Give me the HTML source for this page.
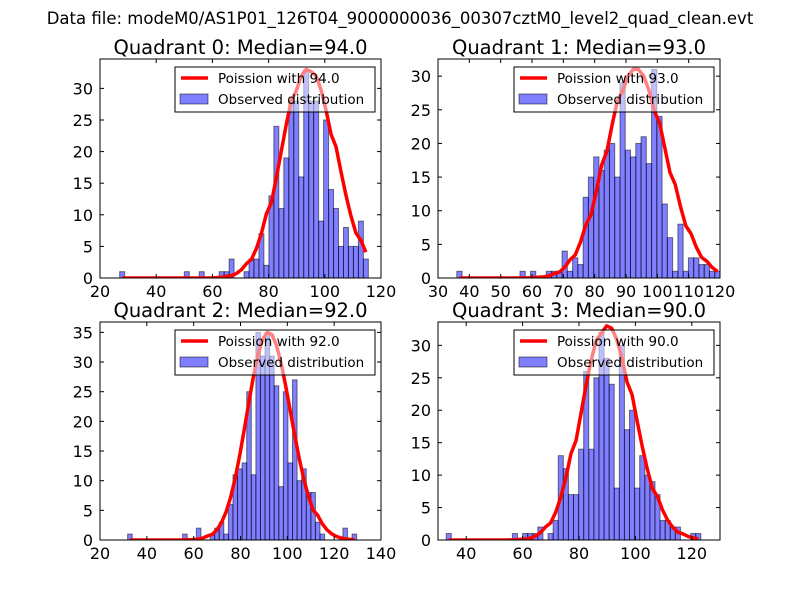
<!DOCTYPE html>
<html><head><meta charset="utf-8"><style>
html,body{margin:0;padding:0;background:#fff;}
svg{display:block;font-family:"DejaVu Sans","Liberation Sans",sans-serif;}
</style></head><body>
<svg id="fig" width="800" height="600" viewBox="0 0 800 600">
<rect width="800" height="600" fill="#fff"/>
<text x="400" y="24" text-anchor="middle" font-size="16.5">Data file: modeM0/AS1P01_126T04_9000000036_00307cztM0_level2_quad_clean.evt</text>
</svg>
<script>
// ---- data ----
const medians = [94.0, 93.0, 92.0, 90.0];
const dataMin = [27.0, 36.0, 31.8, 32.9];
const dataMax = [115.5, 120.0, 129.6, 123.2];
const curvePeak = [33, 31, 35, 33];
const q0Counts = [1,0,0,0,0,0,0,0,0,0,0,0,0,1,0,0,1,0,0,0,1,1,3,0,0,1,3,3,7,2,13,24,11,19,28,28,16,33,28,28,9,25,14,11,5,8,5,5,9,3];
const q1Counts = [1,0,0,0,0,0,0,0,0,0,0,0,1,0,1,0,0,1,1,1,4,1,3,2,12,15,18,16,19,20,15,29,19,18,20,21,17,31,24,11,6,1,8,1,3,3,2,2,1,1];
const q2Counts = [1,0,0,0,0,0,0,0,0,0,0,0,1,0,0,2,0,0,1,2,3,1,6,11,12,13,25,11,35,31,35,31,26,9,25,13,27,10,12,8,8,3,1,0,0,0,0,2,0,1];
const q3Counts = [1,0,0,0,0,0,0,0,0,0,0,0,0,1,0,1,1,1,2,0,1,3,13,11,7,7,14,26,14,25,32,28,24,8,30,17,20,8,13,10,9,7,3,3,2,2,0,0,1,1];
const xTicks = [[20,40,60,80,100,120],[30,40,50,60,70,80,90,100,110,120],[20,40,60,80,100,120,140],[40,60,80,100,120]];
const yTicks = [[0,5,10,15,20,25,30],[0,5,10,15,20,25,30],[0,5,10,15,20,25,30,35],[0,5,10,15,20,25,30]];
const xLimits = [[20,120],[30,120],[20,140],[30,130]];
// ---- layout ----
const boxes = [{l:100,r:381,t:59,b:278},{l:438,r:720,t:59,b:278},{l:100,r:381,t:322,b:540},{l:438,r:720,t:322,b:540}];
const allCounts = [q0Counts,q1Counts,q2Counts,q3Counts];
const NS = "http://www.w3.org/2000/svg";
const svg = document.getElementById('fig');
function mk(tag, attrs, parent){const e=document.createElementNS(NS,tag);for(const k in attrs)e.setAttribute(k,attrs[k]);(parent||svg).appendChild(e);return e;}
function lgamma(z){const g=7,c=[0.99999999999980993,676.5203681218851,-1259.1392167224028,771.32342877765313,-176.61563921189816,12.507343278686905,-0.13857109526572012,9.9843695780195716e-6,1.5056327351493116e-7];z-=1;let x=c[0];for(let i=1;i<g+2;i++)x+=c[i]/(z+i);const t=z+g+0.5;return 0.5*Math.log(2*Math.PI)+(z+0.5)*Math.log(t)-t+Math.log(x);}
function pmf(k,mu){return Math.exp(k*Math.log(mu)-mu-lgamma(k+1));}

for(let q=0;q<4;q++){
  const B=boxes[q], counts=allCounts[q], xl=xLimits[q];
  const ymax=1.05*Math.max(...counts);
  const sx=v=>B.l+(v-xl[0])/(xl[1]-xl[0])*(B.r-B.l);
  const sy=v=>B.b-v/ymax*(B.b-B.t);
  const g=mk('g',{});
  
  
  const clip=mk('clipPath',{id:'c'+q},g);mk('rect',{x:B.l,y:B.t,width:B.r-B.l,height:B.b-B.t},clip);
  const n=counts.length, w=(dataMax[q]-dataMin[q])/n;
  const bars=mk('g',{'clip-path':'url(#c'+q+')'},g);
  for(let i=0;i<n;i++){
    if(!counts[i])continue;
    const x0=sx(dataMin[q]+i*w), x1=sx(dataMin[q]+(i+1)*w);
    const r=mk('rect',{x:x0,y:sy(counts[i]),width:x1-x0,height:sy(0)-sy(counts[i]),fill:'rgba(0,0,255,0.5)',stroke:'rgba(0,0,0,0.5)','stroke-width':1},bars);
    
    
  }
  const mu=medians[q];
  const scale=curvePeak[q]/pmf(Math.floor(mu),mu);
  let d='';
  for(let i=0;i<n;i++){
    const c=dataMin[q]+(i+0.5)*w;
    const v=pmf(Math.floor(c),mu)*scale;
    d+=(i?'L':'M')+sx(c).toFixed(2)+','+sy(v).toFixed(2);
  }
  const curve=mk('path',{d:d,fill:'none',stroke:'#ff0000','stroke-width':3.5,'stroke-linejoin':'round','clip-path':'url(#c'+q+')'},g);
  
  
  mk('rect',{x:B.l,y:B.t,width:B.r-B.l,height:B.b-B.t,fill:'none',stroke:'#000','stroke-width':1},g);
  for(const t of xTicks[q]){
    const x=sx(t);
    mk('line',{x1:x,y1:B.b,x2:x,y2:B.b-4,stroke:'#000'},g);
    mk('line',{x1:x,y1:B.t,x2:x,y2:B.t+4,stroke:'#000'},g);
    const tx=mk('text',{x:x,y:B.b+19,'text-anchor':'middle','font-size':16},g);tx.textContent=t;
    
    
  }
  for(const t of yTicks[q]){
    const y=sy(t);
    mk('line',{x1:B.l,y1:y,x2:B.l+4,y2:y,stroke:'#000'},g);
    mk('line',{x1:B.r,y1:y,x2:B.r-4,y2:y,stroke:'#000'},g);
    const ty=mk('text',{x:B.l-7,y:y+6,'text-anchor':'end','font-size':16},g);ty.textContent=t;
    
    
  }
  const title=mk('text',{x:(B.l+B.r)/2,y:B.t-5,'text-anchor':'middle','font-size':19.5},g);
  title.textContent='Quadrant '+q+': Median='+mu.toFixed(1);
  
  
  const lg=mk('g',{},g);
  
  
  const lx=B.r-206, ly=B.t+8;
  mk('rect',{x:lx,y:ly,width:200,height:45,fill:'rgba(255,255,255,0.5)',stroke:'#000','stroke-width':1},lg);
  mk('line',{x1:lx+6,y1:ly+11,x2:lx+33,y2:ly+11,stroke:'#ff0000','stroke-width':3.5},lg);
  const t1=mk('text',{x:lx+43,y:ly+16,'font-size':13.5},lg);t1.textContent='Poission with '+mu.toFixed(1);
  
  
  mk('rect',{x:lx+5,y:ly+27,width:28,height:10,fill:'rgba(0,0,255,0.5)',stroke:'rgba(0,0,0,0.5)'},lg);
  const t2=mk('text',{x:lx+43,y:ly+37,'font-size':13.5},lg);t2.textContent='Observed distribution';
  
  
}
</script>
</body></html>
